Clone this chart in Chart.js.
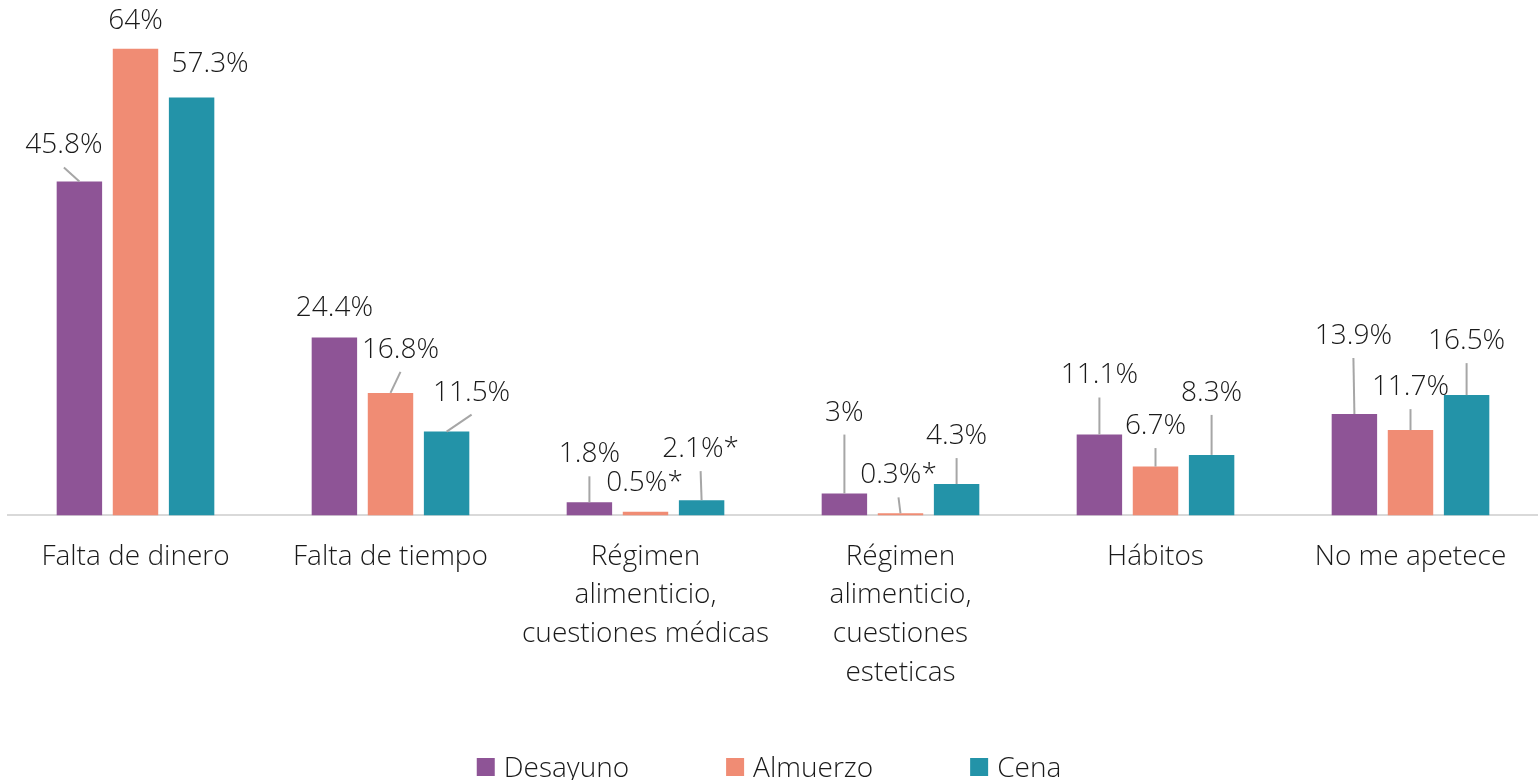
<!DOCTYPE html>
<html>
<head>
<meta charset="utf-8">
<script src="https://cdn.jsdelivr.net/npm/chart.js@4.4.1/dist/chart.umd.min.js"></script>
<style>
html,body{margin:0;padding:0;background:#ffffff;}
canvas{display:block;}
</style>
</head>
<body>
<canvas id="c" width="1538" height="780"></canvas>
<script>
// ---- data ----
const categories = [
  'Falta de dinero',
  'Falta de tiempo',
  ['Régimen', 'alimenticio,', 'cuestiones médicas'],
  ['Régimen', 'alimenticio,', 'cuestiones', 'esteticas'],
  'Hábitos',
  'No me apetece'
];
const seriesNames = ['Desayuno', 'Almuerzo', 'Cena'];
const desayuno = [45.8, 24.4, 1.8, 3, 11.1, 13.9];
const almuerzo = [64, 16.8, 0.5, 0.3, 6.7, 11.7];
const cena = [57.3, 11.5, 2.1, 4.3, 8.3, 16.5];
const desayunoMarks = ['', '', '', '', '', ''];
const almuerzoMarks = ['', '', '*', '*', '', ''];
const cenaMarks = ['', '', '*', '', '', ''];
const yMax = 70;

// ---- style ----
const FONT = '"Open Sans"';
const WEIGHT = '300';
const SIZE = 28;
const TEXT = '#1a1a1a';
const colors = ['#8E5496', '#F08C74', '#2393A8'];

// label placement relative to bar top centre: [dx, dy, leaderLine]
const labelLayout = [
  [[-15.5, -38, 1], [0, -32, 0], [0, -50, 1], [0, -83, 1], [0, -61, 1], [-1, -80, 1]],
  [[0, -30, 0], [10, -45, 1], [-1, -31, 0], [-2, -40, 1], [0, -42.5, 1], [0, -45, 1]],
  [[18.5, -35.5, 0], [25, -41, 1], [-1, -53, 1], [0, -50, 1], [0, -64, 1], [0, -56, 1]]
];

const dataLabelPlugin = {
  id: 'dataLabels',
  afterDatasetsDraw(chart, args, opts) {
    const ctx = chart.ctx;
    ctx.save();
    chart.data.datasets.forEach((ds, i) => {
      const meta = chart.getDatasetMeta(i);
      meta.data.forEach((bar, j) => {
        const [dx, dy, leader] = opts.layout[i][j];
        const tx = bar.x + dx, ty = bar.y + dy;
        if (leader) {
          ctx.beginPath();
          ctx.strokeStyle = '#a6a6a6';
          ctx.lineWidth = 2;
          ctx.moveTo(tx, ty + 24);
          ctx.lineTo(bar.x, bar.y);
          ctx.stroke();
        }
        ctx.font = WEIGHT + ' ' + SIZE + 'px ' + FONT;
        ctx.fillStyle = TEXT;
        ctx.textAlign = 'center';
        ctx.textBaseline = 'alphabetic';
        ctx.fillText(ds.data[j] + '%' + ds.marks[j], tx, ty + 10);
      });
    });
    ctx.restore();
  }
};

const legendPlugin = {
  id: 'bottomLegend',
  afterDraw(chart, args, opts) {
    const ctx = chart.ctx;
    ctx.save();
    ctx.font = WEIGHT + ' ' + SIZE + 'px ' + FONT;
    const items = chart.data.datasets.map(ds => ({
      text: ds.label,
      color: ds.backgroundColor,
      w: opts.box + opts.gap + ctx.measureText(ds.label).width
    }));
    const total = items.reduce((s, it) => s + it.w, 0) + opts.spacing * (items.length - 1);
    let x = chart.width / 2 - total / 2;
    const y = opts.y;
    items.forEach(it => {
      ctx.fillStyle = it.color;
      ctx.fillRect(x, y - opts.box / 2, opts.box, opts.box);
      ctx.fillStyle = TEXT;
      ctx.textAlign = 'left';
      ctx.textBaseline = 'alphabetic';
      ctx.fillText(it.text, x + opts.box + opts.gap, y + 10);
      x += it.w + opts.spacing;
    });
    ctx.restore();
  }
};

new Chart(document.getElementById('c'), {
  type: 'bar',
  data: {
    labels: categories,
    datasets: [
      { label: seriesNames[0], data: desayuno, marks: desayunoMarks, backgroundColor: colors[0] },
      { label: seriesNames[1], data: almuerzo, marks: almuerzoMarks, backgroundColor: colors[1] },
      { label: seriesNames[2], data: cena, marks: cenaMarks, backgroundColor: colors[2] }
    ]
  },
  options: {
    responsive: false,
    animation: false,
    devicePixelRatio: 1,
    categoryPercentage: 0.66,
    barPercentage: 0.81,
    layout: { padding: { left: 8, right: 0, top: 5, bottom: 66 } },
    scales: {
      x: {
        grid: { display: false, drawTicks: false },
        border: { display: true, color: '#d9d9d9', width: 2 },
        ticks: {
          color: TEXT,
          padding: 22,
          autoSkip: false,
          maxRotation: 0,
          minRotation: 0,
          font: { family: 'Open Sans', size: SIZE, weight: WEIGHT, lineHeight: 1.38 }
        }
      },
      y: { display: false, min: 0, max: yMax }
    },
    plugins: {
      legend: { display: false },
      tooltip: { enabled: false },
      dataLabels: { layout: labelLayout },
      bottomLegend: { box: 18, gap: 9, spacing: 97, y: 767 }
    }
  },
  plugins: [dataLabelPlugin, legendPlugin]
});
</script>
</body>
</html>
